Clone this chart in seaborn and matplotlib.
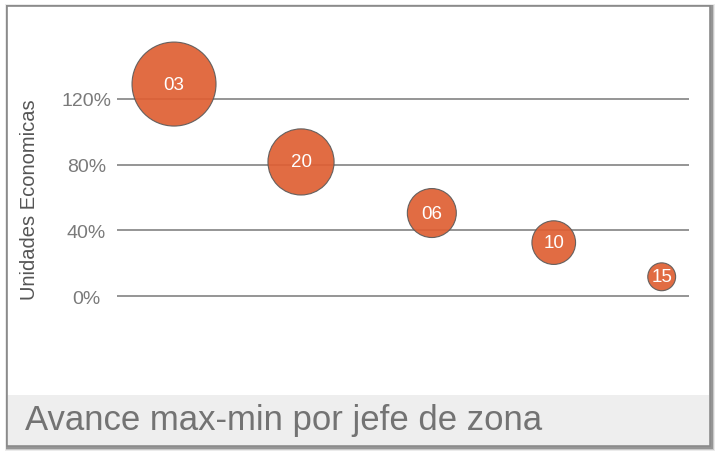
import matplotlib
matplotlib.use("Agg")
import matplotlib.pyplot as plt
import seaborn as sns
from matplotlib.patches import Rectangle
from matplotlib.ticker import FuncFormatter

# Data
jefes = ["03", "20", "06", "10", "15"]
posicion = [1.0, 2.0, 3.03, 3.99, 4.84]
avance = [129, 81.6, 50.5, 32.5, 11.7]
peso = [100, 62, 34, 27, 11]
y_ticks = [0, 40, 80, 120]

W, H = 717, 456
sns.set_theme(style="white")
plt.rcParams["font.family"] = ["Liberation Sans", "DejaVu Sans"]

fig = plt.figure(figsize=(W / 100, H / 100), dpi=100)
fig.patch.set_facecolor("white")


def px_rect(x0, y0, x1, y1, **kw):
    # rectangle given in pixel coords (origin top-left)
    r = Rectangle((x0 / W, 1 - y1 / H), (x1 - x0) / W, (y1 - y0) / H,
                  transform=fig.transFigure, **kw)
    fig.add_artist(r)
    return r


# Card shadow + card + footer
for i, a in enumerate([0.08, 0.15, 0.25]):
    d = 4 - i
    px_rect(7 - d * 0.4, 7 - d * 0.4, 711 + d, 448 + d, facecolor="#000000",
            edgecolor="none", alpha=a, zorder=0)
px_rect(7, 7, 710, 447, facecolor="white", edgecolor="#8a8a8a", lw=1.2, zorder=1)
px_rect(8, 396, 709, 446, facecolor="#eeeeee", edgecolor="none", zorder=2)
fig.text(25 / W, 1 - 421 / H, "Avance max-min por jefe de zona", fontsize=25,
         color="#737373", ha="left", va="center", zorder=3)

ax = fig.add_axes([117 / W, 1 - 390 / H, 572 / W, 370 / H])
ax.set_facecolor("none")
ax.set_zorder(5)

sns.scatterplot(x=posicion, y=avance, size=peso, sizes=(0, 3658),
                size_norm=(0, 100), legend=False, color="#DF5F33", alpha=0.92,
                edgecolor="#5a5a5a", linewidth=0.8, ax=ax, zorder=3,
                clip_on=False)

for xv, yv, lab in zip(posicion, avance, jefes):
    ax.text(xv, yv, lab, color="white", fontsize=13.5, ha="center",
            va="center", zorder=4)

ax.set_xlim(0.551, 5.055)
ax.set_ylim(-56.6, 168.6)
ax.set_yticks(y_ticks)
ax.yaxis.set_major_formatter(FuncFormatter(lambda v, p: f"{v:.0f}%"))
ax.set_xticks([])
ax.grid(axis="y", color="#8c8c8c", linewidth=1.3)
ax.set_axisbelow(True)
sns.despine(ax=ax, left=True, bottom=True)
ax.tick_params(axis="y", length=0, pad=22, labelsize=14, labelcolor="#7a7a7a")
for t in ax.get_yticklabels():
    t.set_horizontalalignment("center")

fig.text(30 / W, 1 - 200 / H, "Unidades Economicas", rotation=90, fontsize=14.5,
         color="#555555", ha="center", va="center", zorder=6)

fig.savefig("out.png", dpi=100)
